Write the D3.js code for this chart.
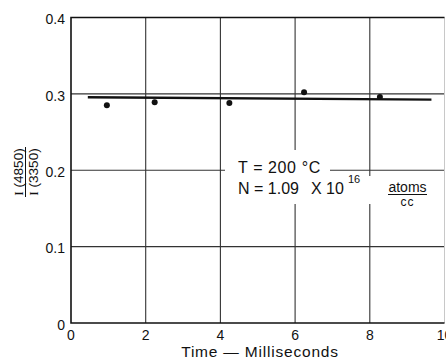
<!DOCTYPE html>
<html lang="en">
<head>
<meta charset="utf-8">
<script src="https://d3js.org/d3.v7.min.js"></script>
<style>
  body { margin: 0; background: #fff; }
  text { font-family: "Liberation Sans", Arial, sans-serif; fill: #111; }
</style>
</head>
<body>
<div id="chart"></div>
<script>
// values
var times = [0.96, 2.24, 4.24, 6.24, 8.27];          // ms
var ratios = [0.285, 0.289, 0.288, 0.302, 0.296];     // I(4850)/I(3350)
var fitTimes = [0.45, 9.65];
var fitRatios = [0.2955, 0.2925];
var xTicks = [0, 2, 4, 6, 8, 10];
var yTicks = [0, 0.1, 0.2, 0.3, 0.4];
var yTickLabels = ["0", "0.1", "0.2", "0.3", "0.4"];

var width = 446, height = 360;

var svg = d3.select("#chart").append("svg")
    .attr("width", width)
    .attr("height", height);

var x = d3.scaleLinear().domain([0, 10]).range([71, 444.5]);
var y = d3.scaleLinear().domain([0, 0.4]).range([323, 17.5]);

// grid
svg.selectAll(".vgrid")
    .data(xTicks.slice(1, -1))
    .enter().append("line")
    .attr("x1", d => x(d)).attr("x2", d => x(d))
    .attr("y1", y(0)).attr("y2", y(0.4))
    .attr("stroke", "#333").attr("stroke-width", 1.1);

svg.selectAll(".hgrid")
    .data(yTicks.slice(1, -1))
    .enter().append("line")
    .attr("x1", x(0)).attr("x2", x(10))
    .attr("y1", d => y(d)).attr("y2", d => y(d))
    .attr("stroke", "#333").attr("stroke-width", 1.1);

// frame: right edge is faint in the scan
svg.append("line")
    .attr("x1", x(10)).attr("x2", x(10)).attr("y1", y(0)).attr("y2", y(0.4))
    .attr("stroke", "#c8c8c8").attr("stroke-width", 1);
svg.append("path")
    .attr("d", "M" + x(10) + "," + y(0.4) + "H" + x(0) + "V" + y(0) + "H" + x(10))
    .attr("fill", "none").attr("stroke", "#111").attr("stroke-width", 1.6);

// tick labels
svg.selectAll(".ylab")
    .data(yTicks)
    .enter().append("text")
    .attr("x", 65)
    .attr("y", d => y(d) + 3)
    .attr("dominant-baseline", "middle")
    .attr("text-anchor", "end")
    .attr("font-size", 14)
    .text((d, i) => yTickLabels[i]);

svg.selectAll(".xlab")
    .data(xTicks)
    .enter().append("text")
    .attr("x", d => x(d))
    .attr("y", 340)
    .attr("text-anchor", "middle")
    .attr("font-size", 14)
    .text(d => d);

// axis titles
svg.append("text")
    .attr("x", 260).attr("y", 357)
    .attr("text-anchor", "middle")
    .attr("font-size", 15.5)
    .attr("letter-spacing", 0.8)
    .text("Time \u2014 Milliseconds");

var yt = svg.append("g").attr("transform", "translate(25.5,172) rotate(-90)");
yt.append("text").attr("x", 0).attr("y", -2.5)
    .attr("text-anchor", "middle").attr("font-size", 13.5)
    .html('<tspan font-family="Liberation Serif">I</tspan> (4850)');
yt.append("line").attr("x1", -25).attr("x2", 25).attr("y1", 0).attr("y2", 0)
    .attr("stroke", "#111").attr("stroke-width", 1);
yt.append("text").attr("x", 0).attr("y", 12.5)
    .attr("text-anchor", "middle").attr("font-size", 13.5)
    .html('<tspan font-family="Liberation Serif">I</tspan> (3350)');

// fitted line
var line = d3.line().x(d => x(d[0])).y(d => y(d[1]));
svg.append("path")
    .datum(d3.zip(fitTimes, fitRatios))
    .attr("d", line)
    .attr("fill", "none").attr("stroke", "#111").attr("stroke-width", 2.4);

// data points
svg.selectAll(".pt")
    .data(d3.zip(times, ratios))
    .enter().append("circle")
    .attr("cx", d => x(d[0]))
    .attr("cy", d => y(d[1]))
    .attr("r", 3)
    .attr("fill", "#111");

// annotation
svg.append("rect").attr("x", 225).attr("y", 150).attr("width", 105).attr("height", 30).attr("fill", "#fff");
svg.append("rect").attr("x", 232).attr("y", 176).attr("width", 200).attr("height", 28).attr("fill", "#fff");

svg.append("text").attr("x", 238).attr("y", 173)
    .attr("font-size", 16).attr("letter-spacing", 0.6)
    .text("T = 200 \u00b0C");
svg.append("text").attr("x", 238).attr("y", 194)
    .attr("font-size", 16)
    .text("N = 1.09");
svg.append("text").attr("x", 311).attr("y", 194)
    .attr("font-size", 16)
    .text("X 10");
svg.append("text").attr("x", 348).attr("y", 183)
    .attr("font-size", 11).text("16");
svg.append("text").attr("x", 407.5).attr("y", 191.5)
    .attr("text-anchor", "middle").attr("font-size", 14)
    .text("atoms");
svg.append("line").attr("x1", 388).attr("x2", 427).attr("y1", 194.5).attr("y2", 194.5)
    .attr("stroke", "#111").attr("stroke-width", 1.2);
svg.append("text").attr("x", 407.5).attr("y", 206)
    .attr("text-anchor", "middle").attr("font-size", 12).attr("letter-spacing", 1)
    .text("cc");
</script>
</body>
</html>
